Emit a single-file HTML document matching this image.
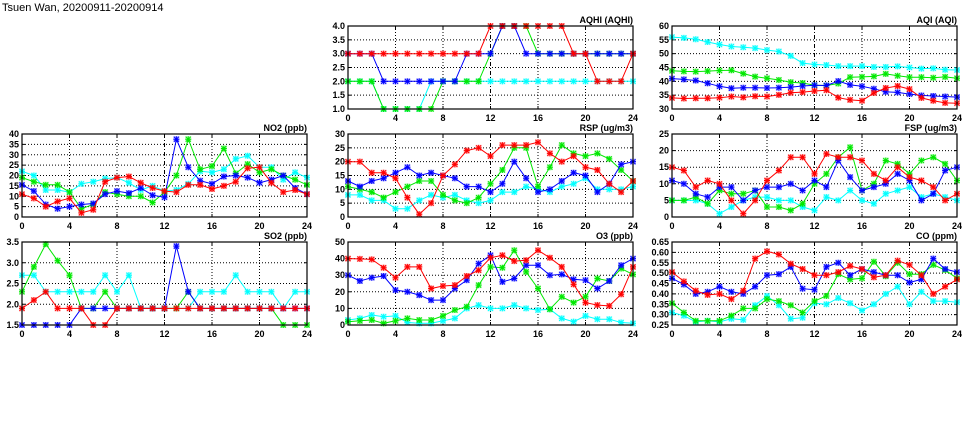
<!DOCTYPE html>
<html><head><meta charset="utf-8"><style>
html,body{margin:0;padding:0;background:#fff;width:975px;height:447px;overflow:hidden}
svg{display:block}
text{font-family:"Liberation Sans",sans-serif;font-size:9px;font-weight:bold;fill:#000}
</style></head><body>
<svg id="s" width="975" height="447" xmlns="http://www.w3.org/2000/svg">
<text x="2" y="11" style="font-size:11px;font-weight:normal">Tsuen Wan, 20200911-20200914</text>
<g class="p" transform="translate(348,26)"><text class="t" x="285" y="-3" text-anchor="end">AQHI (AQHI)</text>
<g class="y"><text>1.0</text><text>1.5</text><text>2.0</text><text>2.5</text><text>3.0</text><text>3.5</text><text>4.0</text></g>
<g class="x"><text>0</text><text>4</text><text>8</text><text>12</text><text>16</text><text>20</text><text>24</text></g></g>
<g class="p" transform="translate(672,26)"><text class="t" x="285" y="-3" text-anchor="end">AQI (AQI)</text>
<g class="y"><text>30</text><text>35</text><text>40</text><text>45</text><text>50</text><text>55</text><text>60</text></g>
<g class="x"><text>0</text><text>4</text><text>8</text><text>12</text><text>16</text><text>20</text><text>24</text></g></g>
<g class="p" transform="translate(22,134)"><text class="t" x="285" y="-3" text-anchor="end">NO2 (ppb)</text>
<g class="y"><text>0</text><text>5</text><text>10</text><text>15</text><text>20</text><text>25</text><text>30</text><text>35</text><text>40</text></g>
<g class="x"><text>0</text><text>4</text><text>8</text><text>12</text><text>16</text><text>20</text><text>24</text></g></g>
<g class="p" transform="translate(348,134)"><text class="t" x="285" y="-3" text-anchor="end">RSP (ug/m3)</text>
<g class="y"><text>0</text><text>5</text><text>10</text><text>15</text><text>20</text><text>25</text><text>30</text></g>
<g class="x"><text>0</text><text>4</text><text>8</text><text>12</text><text>16</text><text>20</text><text>24</text></g></g>
<g class="p" transform="translate(672,134)"><text class="t" x="285" y="-3" text-anchor="end">FSP (ug/m3)</text>
<g class="y"><text>0</text><text>5</text><text>10</text><text>15</text><text>20</text><text>25</text></g>
<g class="x"><text>0</text><text>4</text><text>8</text><text>12</text><text>16</text><text>20</text><text>24</text></g></g>
<g class="p" transform="translate(22,242)"><text class="t" x="285" y="-3" text-anchor="end">SO2 (ppb)</text>
<g class="y"><text>1.5</text><text>2.0</text><text>2.5</text><text>3.0</text><text>3.5</text></g>
<g class="x"><text>0</text><text>4</text><text>8</text><text>12</text><text>16</text><text>20</text><text>24</text></g></g>
<g class="p" transform="translate(348,242)"><text class="t" x="285" y="-3" text-anchor="end">O3 (ppb)</text>
<g class="y"><text>0</text><text>10</text><text>20</text><text>30</text><text>40</text><text>50</text></g>
<g class="x"><text>0</text><text>4</text><text>8</text><text>12</text><text>16</text><text>20</text><text>24</text></g></g>
<g class="p" transform="translate(672,242)"><text class="t" x="285" y="-3" text-anchor="end">CO (ppm)</text>
<g class="y"><text>0.25</text><text>0.30</text><text>0.35</text><text>0.40</text><text>0.45</text><text>0.50</text><text>0.55</text><text>0.60</text><text>0.65</text></g>
<g class="x"><text>0</text><text>4</text><text>8</text><text>12</text><text>16</text><text>20</text><text>24</text></g></g>
</svg>
<script>
var W=285,H=83,NS="http://www.w3.org/2000/svg";
var C={c:"#00ffff",g:"#00e800",b:"#0000ff",r:"#ff0000"};
var P=[
[1,4,{c:[2,2,2,1,1,1,1,2,2,2,2,2,2,2,2,2,2,2,2,2,2,2,2,2,2],g:[2,2,2,1,1,1,1,1,2,2,2,2,3,4,4,4,3,3,3,3,3,3,3,3,3],b:[3,3,3,2,2,2,2,2,2,2,3,3,3,4,4,3,3,3,3,3,3,3,3,3,3],r:[3,3,3,3,3,3,3,3,3,3,3,3,4,4,4,4,4,4,4,3,3,2,2,2,3]}],
[30,60,{c:[56,55.7,55.2,54.2,53.3,52.6,52.3,52,51.3,50.8,49.2,46.6,46.1,45.9,45.5,45.5,45.5,45.2,45.2,45.4,45,44.6,44.7,44.2,44.1],g:[43.8,43.6,43.5,43.7,43.9,44,42.8,41.7,41.1,40.5,39.7,39.4,38.6,38.5,39.2,41.5,41.6,41.8,42.7,42,41.5,41.5,41.3,41.6,41.1],b:[41,40.7,40.3,39.3,38.2,37.5,37.7,37.7,37.6,37.7,37.9,38.3,38.6,38.5,40.1,38.7,38.2,37.3,36.2,36,35.4,34.9,34.7,34.5,34.3],r:[34,33.8,33.9,33.9,34.1,34.5,34.2,34.6,34.5,35.1,35.9,36.1,36.5,36.8,34.1,33.3,33,35.8,37.6,38.3,37.2,34,33,32.2,32.1]}],
[0,40,{c:[22,20,13,13,12,16,17,18.5,19,16.5,13,15,12.5,13,16,22,21.5,23,28,29.5,24,24,18,21.5,19],g:[19,17,15.5,15.5,12,4,6,12,11,10,10,7,12,20,37.5,23,24.5,33,21,25.5,21.5,23,20,18,15.5],b:[15.5,12.5,6,4,5,6,6.5,11,12.5,11.5,14,10.5,9.5,37.5,24,17.5,16,19.5,20,19,16.5,18,20,14,11],r:[11,9,5,7.5,9,2,3.5,17,19,19.5,16.5,14,12.5,12,15.5,15.5,13.5,15,17,23.5,24,16.5,12,13,11]}],
[0,30,{c:[8,8,6,6,3,3,6,8,7,8,6,5,6,9,9,11,10,9,11,12,14,10,10,10,11],g:[11,10,9,7,9,11,13,13,8,6,5,7,12,17,25,25,11,18,26,23,22,23,21,17,13],b:[13,11,13,14,16,18,15,16,15,14,11,11,9,12,20,14,9,10,13,16,15,9,12,19,20],r:[20,20,16,16,14,7,1,5,15,19,24,25,22,26,26,26,27,23,20,22,18,17,12,9,13]}],
[0,25,{c:[5,5,5,4,1,3,5,6,6,5,5,3,2,6,5,8,5,4,7,8,9,6,7,6,5],g:[5,5,6,4,8,7,7,8,3,3,2,4,10,13,18,21,8,10,17,16,13,17,18,16,11],b:[11,10,7,6,9,9,5,8,9,9,10,8,11,9,17,12,8,9,10,13,11,5,7,14,15],r:[15,14,9,11,10,5,1,5,11,14,18,18,13,19,18,18,17,13,11,15,12,11,9,5,7]}],
[1.5,3.5,{c:[2.7,2.7,2.3,2.3,2.3,2.3,2.3,2.7,2.3,2.7,1.9,1.9,1.9,1.9,1.9,2.3,2.3,2.3,2.7,2.3,2.3,2.3,1.9,2.3,2.3],g:[2.3,2.9,3.45,3.05,2.7,1.9,1.9,2.3,1.9,1.9,1.9,1.9,1.9,1.9,2.3,1.9,1.9,1.9,1.9,1.9,1.9,1.9,1.5,1.5,1.5],b:[1.5,1.5,1.5,1.5,1.5,1.9,1.9,1.9,1.9,1.9,1.9,1.9,1.9,3.4,2.3,1.9,1.9,1.9,1.9,1.9,1.9,1.9,1.9,1.9,1.9],r:[1.9,2.1,2.3,1.9,1.9,1.9,1.5,1.5,1.9,1.9,1.9,1.9,1.9,1.9,1.9,1.9,1.9,1.9,1.9,1.9,1.9,1.9,1.9,1.9,1.9]}],
[0,50,{c:[3,4,6,5,5.5,1.5,1,1,2.5,4,10,12,10,10,12,10,9,9.5,4,2,5.5,3.5,3.5,1.5,1],g:[2,2.5,3,1,2.5,4,3,3,5.5,9,11,24,35,34.5,45,32,22,9.5,17,13.5,17,28,26.5,34,30.5],b:[30,26.5,28.5,29.5,21,20,18,15,15,22,27,37,42,26,28,36,36,30,30.5,27.5,27,22,26.5,36,40],r:[40,39.8,39.5,34.5,28.5,35,35,22,23.5,24,29.5,33,40.5,42,38.5,39,45,40.5,35,24.5,13.5,12,11.5,18.5,35]}],
[0.25,0.65,{c:[.31,.295,.265,.27,.265,.28,.275,.345,.39,.345,.28,.285,.355,.35,.38,.355,.32,.35,.40,.435,.35,.41,.365,.365,.36],g:[.355,.31,.27,.27,.27,.295,.33,.33,.375,.365,.345,.31,.365,.39,.495,.47,.475,.555,.485,.55,.495,.495,.54,.515,.475],b:[.475,.445,.40,.41,.435,.41,.40,.435,.49,.495,.53,.425,.42,.53,.55,.49,.52,.505,.49,.49,.455,.47,.57,.52,.505],r:[.505,.46,.415,.395,.40,.375,.415,.57,.605,.59,.545,.52,.49,.49,.505,.535,.52,.48,.49,.56,.54,.49,.40,.435,.47]}]
];
function el(n,a,p){var e=document.createElementNS(NS,n);for(var k in a)e.setAttribute(k,a[k]);p.appendChild(e);return e;}
var gs=document.querySelectorAll("g.p");
gs.forEach(function(g,pi){
 var d=P[pi],mn=d[0],mx=d[1];
 var ys=g.querySelector("g.y").children,n=ys.length;
 for(var i=0;i<n;i++){var yy=H-i*H/(n-1);ys[i].setAttribute("x",-3);ys[i].setAttribute("y",yy+3);ys[i].setAttribute("text-anchor","end");
  if(i>0&&i<n-1)el("line",{x1:0,x2:W,y1:yy,y2:yy,stroke:"#000","stroke-width":1,"stroke-dasharray":"1,2"},g);
  el("line",{x1:0,x2:3,y1:yy,y2:yy,stroke:"#000"},g);el("line",{x1:W-3,x2:W,y1:yy,y2:yy,stroke:"#000"},g);}
 var xs=g.querySelector("g.x").children;
 for(var i=0;i<7;i++){var xx=i*W/6;xs[i].setAttribute("x",xx);xs[i].setAttribute("y",H+12);xs[i].setAttribute("text-anchor","middle");
  if(i>0&&i<6)el("line",{x1:xx,x2:xx,y1:0,y2:H,stroke:"#000","stroke-width":1,"stroke-dasharray":i==3?"4,2,1,2":"1,2"},g);
  el("line",{x1:xx,x2:xx,y1:H,y2:H-3,stroke:"#000"},g);el("line",{x1:xx,x2:xx,y1:0,y2:3,stroke:"#000"},g);}
 ["c","g","b","r"].forEach(function(k){
  var v=d[2][k],pts=v.map(function(y,i){return [i*W/24,H-(y-mn)/(mx-mn)*H];});
  el("polyline",{points:pts.map(function(p){return p[0].toFixed(1)+","+p[1].toFixed(1)}).join(" "),fill:"none",stroke:C[k],"stroke-width":1},g);
  pts.forEach(function(p){
   el("rect",{x:p[0]-3,y:p[1]-3,width:6,height:6,fill:C[k],opacity:0.3},g);
   el("path",{d:"M"+(p[0]-2.5)+","+(p[1]-2.5)+"l5,5m0,-5l-5,5M"+(p[0]-3)+","+p[1]+"h6M"+p[0]+","+(p[1]-3)+"v6",stroke:C[k],"stroke-width":1,fill:"none"},g);
  });
 });
 el("rect",{x:0,y:0,width:W,height:H,fill:"none",stroke:"#000","stroke-width":1.2},g);
});
</script>
</body></html>
